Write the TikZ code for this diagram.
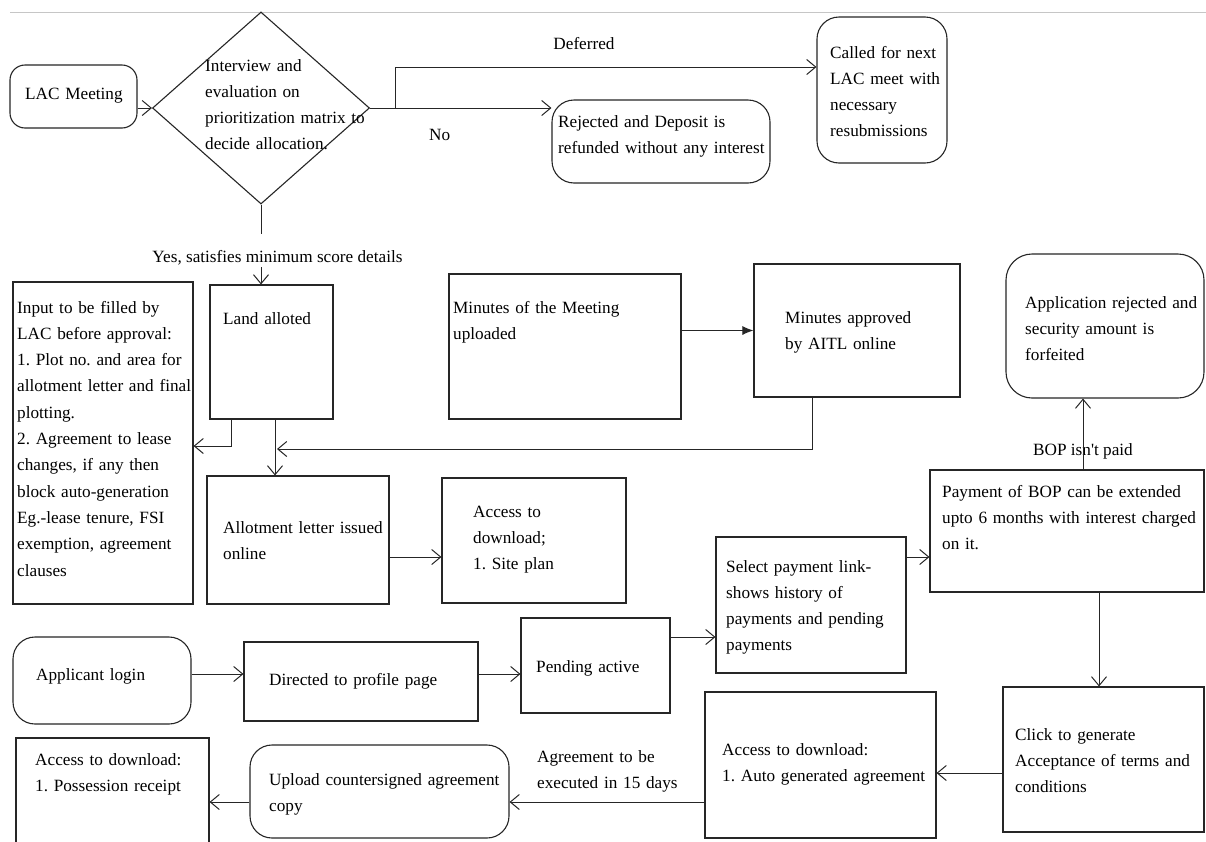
\documentclass[tikz,border=0pt]{standalone}
\usepackage{fontspec}
\setmainfont{Liberation Serif}
\usetikzlibrary{arrows.meta,shapes.geometric,calc}
\newcommand\fs{\fontsize{17.2}{26.3}\selectfont\frenchspacing}
\begin{document}
\begin{tikzpicture}[x=1pt,y=-1pt,
  bx/.style={draw=black!85, line width=1.1pt, inner sep=0pt, rectangle},
  rbx/.style={bx, rounded corners=#1},
  rbx/.default=18pt,
  t/.style={anchor=base west, inner sep=0pt, text width=340pt, align=left, font=\fs},
  lbl/.style={anchor=base, inner sep=0pt, font=\fs},
  ln/.style={line width=1pt, draw=black!85},
  arr/.style={ln, -{Straight Barb[length=9pt,width=15pt]}},
]
\useasboundingbox (0,0) rectangle (1206,841);
\fill[white] (0,0) rectangle (1206,841);
\draw[gray!45, line width=1pt] (10,12) -- (1206,12);

% boxes
\node[rbx=15pt, minimum width=127pt, minimum height=63pt] (lac) at (73.5,96.5) {};
\node[draw=black!85, line width=1.1pt, diamond, inner sep=0pt, minimum width=217pt, minimum height=192pt] (dia) at (261,108) {};
\node[rbx=22pt, minimum width=218pt, minimum height=83pt] (rej) at (661,141.5) {};
\node[rbx=22pt, minimum width=130pt, minimum height=146pt] (called) at (882,90) {};
\node[bx, minimum width=123pt, minimum height=134pt] (land) at (271.5,352) {};
\node[bx, minimum width=180pt, minimum height=322pt] (inp) at (103,443) {};
\node[bx, minimum width=182pt, minimum height=128pt] (allot) at (298,540) {};
\node[bx, minimum width=184pt, minimum height=125pt] (site) at (534,540.5) {};
\node[bx, minimum width=232pt, minimum height=145pt] (mom) at (565,346.5) {};
\node[bx, minimum width=206pt, minimum height=133pt] (mapp) at (857,330.5) {};
\node[rbx=26pt, minimum width=198pt, minimum height=144pt] (arej) at (1105,326) {};
\node[bx, minimum width=274pt, minimum height=122pt] (pay) at (1067,531) {};
\node[bx, minimum width=190pt, minimum height=136pt] (sel) at (811,605) {};
\node[bx, minimum width=201pt, minimum height=145pt] (click) at (1103.5,759.5) {};
\node[bx, minimum width=231pt, minimum height=146pt] (auto) at (820.5,765) {};
\node[rbx=22pt, minimum width=259pt, minimum height=93pt] (upl) at (379.5,791.5) {};
\node[bx, minimum width=193pt, minimum height=112pt] (poss) at (112.5,794) {};
\node[rbx=22pt, minimum width=178pt, minimum height=87pt] (appl) at (102,680.5) {};
\node[bx, minimum width=234pt, minimum height=79pt] (dir) at (361,681.5) {};
\node[bx, minimum width=149pt, minimum height=95pt] (pend) at (595.5,665.5) {};

% texts
\node[t] (tlac) at (25,99) {LAC Meeting};
\node[t] (tdia) at (205,71) {Interview and\\evaluation on\\prioritization matrix to\\decide allocation.};
\node[lbl] (tdef) at (584,49) {Deferred};
\node[t] (tno) at (429,140) {No};
\node[t] (trej) at (558,127) {Rejected and Deposit is\\refunded without any interest};
\node[t] (tcal) at (830,58) {Called for next\\LAC meet with\\necessary\\resubmissions};
\node[lbl] (tyes) at (277.5,262) {Yes, satisfies minimum score details};
\node[t] (tland) at (223,324) {Land alloted};
\node[t] (tinp) at (17,313) {Input to be filled by\\LAC before approval:\\1. Plot no. and area for\\allotment letter and final\\plotting.\\2. Agreement to lease\\changes, if any then\\block auto-generation\\Eg.-lease tenure, FSI\\exemption, agreement\\clauses};
\node[t] (tallot) at (223,533) {Allotment letter issued\\online};
\node[t] (tmom) at (453,313) {Minutes of the Meeting\\uploaded};
\node[t] (tmapp) at (785,323) {Minutes approved\\by AITL online};
\node[t] (tsite) at (473,517) {Access to\\download;\\1. Site plan};
\node[t] (tarej) at (1025,308) {Application rejected and\\security amount is\\forfeited};
\node[lbl] (tbop) at (1083,455) {BOP isn\textquotesingle t paid};
\node[t] (tpay) at (942,497) {Payment of BOP can be extended\\upto 6 months with interest charged\\on it.};
\node[t] (tsel) at (726,572) {Select payment link-\\shows history of\\payments and pending\\payments};
\node[t] (tappl) at (36,680) {Applicant login};
\node[t] (tdir) at (269,685) {Directed to profile page};
\node[t] (tpend) at (536,672) {Pending active};
\node[t] (tclick) at (1015,740) {Click to generate\\Acceptance of terms and\\conditions};
\node[t] (tauto) at (722,755) {Access to download:\\1. Auto generated agreement};
\node[t] (tagr) at (537,762) {Agreement to be\\executed in 15 days};
\node[t] (tupl) at (269,785) {Upload countersigned agreement\\copy};
\node[t] (tposs) at (35,765) {Access to download:\\1. Possession receipt};

% connectors
\draw[arr] (lac.east |- dia.west) -- (dia.west);
\coordinate (br) at (395,108);
\coordinate (defy) at (395,67);
\draw[ln] (dia.east) -- (br);
\draw[arr] (br) -- (defy) -- (defy -| called.west);
\draw[arr] (br) -- (br -| rej.west);

\coordinate (ys) at ($(dia.south)+(0,29)$);
\draw[ln] (dia.south) -- (ys);
\coordinate (yl) at (dia.south |- land.north);
\draw[arr] ($(yl)+(0,-17)$) -- (yl);

\coordinate (l1) at (231,446);
\draw[arr] (land.south -| l1) -- (l1) -- (l1 -| inp.east);
\coordinate (l2) at (275,449);
\draw[arr] (land.south -| l2) -- (l2 |- allot.north);
\coordinate (m1) at (812,449);
\draw[arr] (mapp.south -| m1) -- (m1) -- ($(l2)+(2,0)$);
\draw[ln, -{Latex[length=11pt,width=9pt]}] (mom.east |- mapp.west) -- (mapp.west);

\coordinate (as) at ($(allot.east)+(0,17)$);
\draw[arr] (as) -- (as -| site.west);
\coordinate (bp) at ($(pay.north)+(16,0)$);
\draw[arr] (bp) -- (bp |- arej.south);
\coordinate (sp) at ($(sel.east)+(0,-48)$);
\draw[arr] (sp) -- (sp -| pay.west);
\coordinate (pc) at ($(pay.south)+(32,0)$);
\draw[arr] (pc) -- (pc |- click.north);
\coordinate (ca) at ($(click.west)+(0,13.5)$);
\draw[arr] (ca) -- (ca -| auto.east);
\coordinate (au) at ($(auto.west)+(0,37)$);
\draw[arr] (au) -- (au -| upl.east);
\coordinate (up) at ($(upl.west)+(0,10.5)$);
\draw[arr] (up) -- (up -| poss.east);
\coordinate (ad) at ($(appl.east)+(0,-6.5)$);
\draw[arr] (ad) -- (ad -| dir.west);
\coordinate (dp) at ($(dir.east)+(0,-7.5)$);
\draw[arr] (dp) -- (dp -| pend.west);
\coordinate (ps) at ($(pend.east)+(0,-28.5)$);
\draw[arr] (ps) -- (ps -| sel.west);
\end{tikzpicture}
\end{document}
